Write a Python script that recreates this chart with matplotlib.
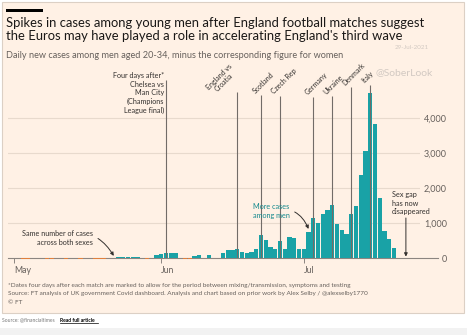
import pandas as pd
import matplotlib
matplotlib.use("Agg")
import matplotlib.pyplot as plt
import matplotlib.dates as mdates
from matplotlib.patches import Rectangle
from matplotlib.lines import Line2D
from matplotlib.ticker import FuncFormatter

plt.rcParams['font.family'] = ['Lato', 'DejaVu Sans']

# Daily new cases among men aged 20-34 minus women (1 May - 20 Jul 2021)
dates = pd.date_range("2021-05-01", "2021-07-20")
may = [10, 0, -30, -30, 0, 5, 0, -25, -30, 5, 0, -25, 0, 5, -25, 0,
       5, -25, -30, -15, 0, 10, 25, 25, 20, 25, 20, 0, -35, 5, 75]
jun = [120, 150, 150, 150, 0, -40, -40, 55, 95, 0, 80, 0, 0, 150, 225,
       225, 255, 160, 150, 165, 270, 660, 510, 320, 265, 495, 265, 595, 560, 255]
jul = [250, 750, 1140, 1000, 1260, 1360, 1510, 980, 790, 695, 1260, 1480,
       2370, 3070, 4700, 3830, 1710, 760, 540, 290]
gap = may + jun + jul

# matches (marked four days after)
match_labels = ["Four days after*\nChelsea vs\nMan City\n(Champions\nLeague final)",
                "England vs\nCroatia", "Scotland", "Czech Rep", "Germany",
                "Ukraine", "Denmark", "Italy"]
match_dates = ["2021-06-02", "2021-06-17", "2021-06-22", "2021-06-26",
               "2021-07-03", "2021-07-07", "2021-07-11", "2021-07-15"]
line_tops = [5086, 4743, 4657, 4630, 4600, 4630, 4886, 4943]
label_offsets = [(-1.5, 0), (-16, -3), (-3.5, 0.5), (-3.5, 0.5), (-3.5, 0.5),
                 (-3.5, 0.5), (-3.5, 0.5), (-3.5, 0.5)]

month_ticks = ["2021-05-01", "2021-06-01", "2021-07-01"]
month_labels = ["May", "Jun", "Jul"]
y_ticks = [0, 1000, 2000, 3000, 4000]

W, H = 467, 335
BG = '#fff1e5'
TEAL = '#19a2a6'
ORANGE = '#e07f3c'
DARK = '#33302e'
GREY = '#66605c'


def fx(px):
    return px / W


def fy(py):
    return 1 - py / H


fig = plt.figure(figsize=(W / 100, H / 100), dpi=100)
fig.patch.set_facecolor('white')

# panel + bottom strip
fig.add_artist(Rectangle((fx(2), fy(313)), fx(462), 311 / H, transform=fig.transFigure,
                         facecolor=BG, edgecolor='#dcd0c5', lw=0.8, zorder=0))
fig.add_artist(Rectangle((0, 0), 1, 7 / H, transform=fig.transFigure,
                         facecolor='#f2f2f2', edgecolor='none', zorder=0))
fig.add_artist(Rectangle((fx(6), fy(11.5)), fx(37), 2.5 / H, transform=fig.transFigure,
                         facecolor='black', edgecolor='none'))

# headings
fig.text(fx(6), fy(17), "Spikes in cases among young men after England football matches suggest\n"
         "the Euros may have played a role in accelerating England's third wave",
         fontsize=9.4, color='#1a1817', va='top', ha='left', linespacing=1.08)
fig.text(fx(6), fy(51), "Daily new cases among men aged 20-34, minus the corresponding figure for women",
         fontsize=6.6, color=GREY, va='top', ha='left')
fig.text(fx(395), fy(47.5), "29-Jul-2021", fontsize=4.5, color='#d2c9c2', va='center')
fig.text(fx(375), fy(73), "@SoberLook", fontsize=7.5, color='#d2c9c2', va='center')

# axes: zero at y=258 px, 35 px per 1000
ax = fig.add_axes([fx(8), fy(258), fx(412), (258 - 75) / H])
ax.set_facecolor('none')
x0 = mdates.date2num(pd.Timestamp("2021-05-01"))
ax.set_xlim(x0 - 1.26, x0 + 85.47)
ax.set_ylim(0, (258 - 75) / 35 * 1000)

for y in y_ticks[1:]:
    ax.axhline(y, color='#e8dacd', lw=0.8, zorder=0)
ax.add_line(Line2D([0, 1.044], [0, 0], transform=ax.get_yaxis_transform(),
                   color='#8c8580', lw=0.8, clip_on=False, zorder=1))

colors = [TEAL if v >= 0 else ORANGE for v in gap]
ax.bar(dates, gap, width=0.86, color=colors, clip_on=False, zorder=2)

# match marker lines and labels
for lab, d, top, off in zip(match_labels, match_dates, line_tops, label_offsets):
    xd = pd.Timestamp(d)
    ax.vlines(xd, 0, top, color='#726c68', lw=0.8, zorder=3)
    if lab.startswith("Four"):
        ax.annotate(lab, (xd, 5300), xytext=off, textcoords='offset points',
                    ha='right', va='top', fontsize=5.2, color=DARK,
                    linespacing=1.25, annotation_clip=False)
    else:
        ax.annotate(lab, (xd, top), xytext=off, textcoords='offset points',
                    rotation=45, rotation_mode='anchor', ha='left', va='bottom',
                    fontsize=5.0, color=DARK, multialignment='center',
                    linespacing=0.95, annotation_clip=False)

# callouts
ax.annotate("Same number of cases\nacross both sexes", xy=(x0 + 21, 60),
            xytext=(x0 + 16.6, 560), ha='right', va='center', fontsize=5.2,
            color=DARK, linespacing=1.3,
            arrowprops=dict(arrowstyle='-|>', connectionstyle='arc3,rad=-0.45',
                            color=DARK, lw=0.7, mutation_scale=5, shrinkA=2, shrinkB=0))
ax.annotate("More cases\namong men", xy=(x0 + 62, 830),
            xytext=(x0 + 54.1, 1343), ha='center', va='center', fontsize=5.2,
            color='#12888c', linespacing=1.3,
            arrowprops=dict(arrowstyle='-|>', connectionstyle='arc3,rad=-0.45',
                            color=DARK, lw=0.7, mutation_scale=5, shrinkA=2, shrinkB=0))
ax.text(x0 + 79.6, 1571, "Sex gap\nhas now\ndisappeared", ha='left', va='center',
        fontsize=5.2, color=DARK, linespacing=1.3)
ax.annotate("", xy=(x0 + 82.5, 40), xytext=(x0 + 82.5, 1143),
            arrowprops=dict(arrowstyle='-|>', color=DARK, lw=0.7, mutation_scale=5,
                            shrinkA=0, shrinkB=0))

# axes styling
for s in ax.spines.values():
    s.set_visible(False)
ax.set_xticks([pd.Timestamp(m) for m in month_ticks])
ax.set_xticklabels(month_labels)
ax.tick_params(axis='x', length=3.5, width=0.7, color='#8c8580', labelsize=6.3,
               labelcolor=GREY, pad=2)
for t in ax.get_xticklabels():
    t.set_ha('left')
ax.yaxis.tick_right()
ax.set_yticks(y_ticks)
ax.yaxis.set_major_formatter(FuncFormatter(lambda v, p: f"{int(v):,}"))
ax.tick_params(axis='y', length=0, labelsize=6.5, labelcolor=GREY, pad=19.4)
for t in ax.get_yticklabels():
    t.set_ha('right')

# footnotes
fig.text(fx(8), fy(285), "*Dates four days after each match are marked to allow for the period "
         "between mixing/transmission, symptoms and testing", fontsize=4.6, color=GREY, va='center')
fig.text(fx(8), fy(294), "Source: FT analysis of UK government Covid dashboard. Analysis and chart "
         "based on prior work by Alex Selby / @alexselby1770", fontsize=4.6, color=GREY, va='center')
fig.text(fx(8), fy(302.5), "\u00a9 FT", fontsize=4.6, color=GREY, va='center')

fig.text(fx(2), fy(320), "Source: @financialtimes", fontsize=3.6, color='#777777', va='center')
fig.text(fx(60), fy(320), "Read full article", fontsize=3.6, color='black',
         fontweight='bold', va='center')
fig.add_artist(Line2D([fx(60), fx(98)], [fy(322.5), fy(322.5)], transform=fig.transFigure,
                      color='black', lw=0.5))

fig.savefig("out.png", dpi=100, facecolor=fig.get_facecolor())
